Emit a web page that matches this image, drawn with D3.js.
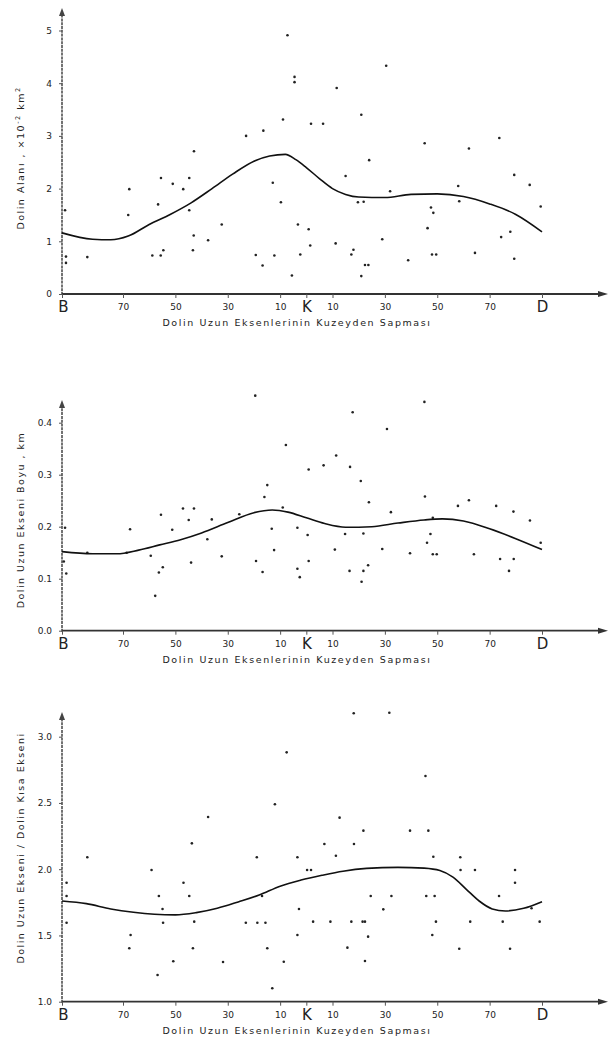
<!DOCTYPE html>
<html><head><meta charset="utf-8">
<script src="https://cdn.jsdelivr.net/npm/d3@7"></script>
<style>
html,body{margin:0;padding:0;background:#fff;}
svg{display:block;}
text{font-family:"DejaVu Sans",sans-serif;fill:#222;}
</style></head><body>
<svg id="chart" width="610" height="1045"></svg>
<script>
// ---- tick definitions (degrees of deviation from north; West negative, East positive)
const xTickValues = [-90,-70,-50,-30,-10,0,10,30,50,70,90];
const xTickLabels = ["B","70","50","30","10","K","10","30","50","70","D"];
const xTitle = "Dolin Uzun Eksenlerinin Kuzeyden Sapması";

// ---- panel 1: doline area
const areaTicks = [0,1,2,3,4,5];
const areaTickLabels = ["0","1","2","3","4","5"];
const areaPoints = [[-89,1.59],[-88.7,0.71],[-88.7,0.59],[-81.7,0.70],[-67.6,1.99],[-68,1.50],[-58.8,0.73],[-56.6,1.70],[-55.5,2.20],[-55.6,0.73],[-54.6,0.83],[-51,2.09],[-47,1.99],[-44.7,2.20],[-44.7,1.59],[-42.9,2.71],[-43,1.11],[-43.3,0.83],[-37.5,1.02],[-32.3,1.32],[-23,3.00],[-19.3,0.74],[-16.7,0.54],[-16.4,3.10],[-12.8,2.11],[-12.2,0.73],[-9.7,1.74],[-8.9,3.31],[-7.2,4.91],[-5.5,0.35],[-4.5,4.12],[-4.5,4.02],[-3.2,1.32],[-2.3,0.75],[0.9,1.23],[1.5,0.92],[1.8,3.23],[6.4,3.23],[11.6,3.91],[11.2,0.96],[15,2.24],[18,0.84],[17.2,0.75],[21,3.40],[19.7,1.74],[21.9,1.75],[21,0.34],[22.4,0.55],[23.7,0.55],[24,2.54],[30.5,4.33],[29,1.04],[32,1.95],[38.9,0.64],[45.2,2.86],[46.3,1.25],[47.6,1.64],[48.5,1.54],[48,0.75],[49.6,0.75],[58,2.05],[58.4,1.76],[62.1,2.76],[64.4,0.78],[73.7,2.96],[74.4,1.08],[77.9,1.18],[79.4,2.26],[79.4,0.67],[85.3,2.07],[89.5,1.66]];
const areaCurve = [[-90,1.16],[-80,1.04],[-74,1.03],[-68,1.10],[-60,1.32],[-52,1.51],[-44,1.73],[-36,2.00],[-28,2.28],[-20,2.52],[-14,2.62],[-8,2.65],[-4,2.55],[0,2.40],[5,2.19],[10,2.00],[15,1.89],[20,1.84],[30,1.83],[40,1.89],[50,1.90],[60,1.85],[70,1.71],[80,1.51],[90,1.18]];

// ---- panel 2: long axis length
const lengthTicks = [0,0.1,0.2,0.3,0.4];
const lengthTickLabels = ["0.0","0.1","0.2","0.3","0.4"];
const lengthPoints = [[-89,0.198],[-89.4,0.133],[-88.6,0.110],[-81.7,0.150],[-68.6,0.150],[-67.3,0.195],[-59.4,0.144],[-57.7,0.067],[-56.3,0.112],[-55.5,0.223],[-54.8,0.122],[-51.2,0.194],[-47.1,0.235],[-44.9,0.213],[-44,0.131],[-42.9,0.235],[-37.8,0.176],[-36.1,0.214],[-32.3,0.143],[-25.6,0.224],[-19.5,0.452],[-19.2,0.134],[-16.7,0.113],[-16,0.257],[-14.9,0.280],[-13.2,0.196],[-12.3,0.155],[-9,0.237],[-7.8,0.357],[-3.4,0.198],[-3.4,0.119],[-2.5,0.103],[0.9,0.310],[0.5,0.184],[0.9,0.134],[6.6,0.318],[11.4,0.337],[10.9,0.156],[14.8,0.186],[16.7,0.315],[17.7,0.420],[16.5,0.115],[20.8,0.288],[21.8,0.187],[21.8,0.115],[21.1,0.094],[23.6,0.126],[23.9,0.247],[30.8,0.388],[32.3,0.228],[29,0.157],[39.6,0.149],[45.1,0.440],[45.3,0.258],[47.4,0.186],[46.1,0.169],[48.3,0.217],[48.3,0.147],[49.8,0.147],[57.9,0.240],[62.1,0.251],[64,0.147],[72.5,0.240],[74,0.138],[77.4,0.115],[79.1,0.229],[79.2,0.138],[85.4,0.212],[89.5,0.169]];
const lengthCurve = [[-90,0.152],[-80,0.148],[-72,0.148],[-64,0.155],[-56,0.165],[-48,0.175],[-40,0.188],[-30,0.208],[-20,0.227],[-13,0.232],[-7,0.228],[0,0.217],[7,0.206],[15,0.199],[25,0.200],[35,0.207],[45,0.213],[52,0.215],[60,0.211],[70,0.196],[80,0.177],[90,0.156]];

// ---- panel 3: long / short axis ratio
const ratioTicks = [1,1.5,2,2.5,3];
const ratioTickLabels = ["1.0","1.5","2.0","2.5","3.0"];
const ratioPoints = [[-88.5,1.898],[-88.5,1.798],[-88.5,1.596],[-81.7,2.090],[-67.1,1.503],[-67.6,1.403],[-59.1,1.994],[-56.8,1.202],[-56.3,1.798],[-54.9,1.700],[-54.7,1.596],[-50.8,1.305],[-46.9,1.898],[-44.7,1.798],[-43.7,2.195],[-42.8,1.604],[-43.3,1.403],[-37.5,2.394],[-31.8,1.300],[-23.1,1.596],[-18.9,2.090],[-18.7,1.596],[-16.9,1.798],[-15.6,1.596],[-14.9,1.403],[-13,1.101],[-12,2.490],[-8.6,1.302],[-7.5,2.882],[-3.4,2.090],[-2.8,1.700],[-3.4,1.503],[0.3,1.994],[1.8,1.994],[2.6,1.604],[6.9,2.190],[9.2,1.604],[11.3,2.102],[12.7,2.389],[15.7,1.408],[17.2,1.604],[18.1,3.177],[18.2,2.190],[21.8,2.291],[21.5,1.604],[22.4,1.604],[23.6,1.491],[22.4,1.307],[24.6,1.798],[31.7,3.181],[29.4,1.697],[32.5,1.798],[39.6,2.291],[45.5,2.703],[46.6,2.291],[48.5,2.094],[45.8,1.798],[49,1.798],[49.5,1.604],[48.1,1.503],[58.8,2.090],[58.9,1.994],[58.4,1.400],[62.6,1.604],[64.4,1.994],[73.6,1.798],[75,1.604],[77.8,1.400],[79.7,1.994],[79.7,1.898],[86,1.705],[89.1,1.604]];
const ratioCurve = [[-90,1.76],[-82,1.74],[-74,1.70],[-66,1.675],[-58,1.66],[-50,1.655],[-42,1.672],[-34,1.705],[-26,1.753],[-18,1.805],[-10,1.872],[-2,1.918],[6,1.954],[14,1.985],[23,2.006],[35,2.014],[45,2.008],[51,1.99],[56,1.94],[61,1.85],[66,1.76],[71,1.70],[76,1.685],[83,1.705],[90,1.755]];

// ---- layout
const svg = d3.select("#chart");
const axisX0 = 62, axisX1 = 608;
const x = d3.scaleLinear().domain([-90,-70,90]).range([62,123,542]);

const panels = [
  {ticks: areaTicks, labels: areaTickLabels, pts: areaPoints, curve: areaCurve,
   domain:[0,5], range:[294,30.5], top:8, titleY:158,
   title: [["Dolin Alanı , ×10",0],["-2",1],[" km",0],["2",1]]},
  {ticks: lengthTicks, labels: lengthTickLabels, pts: lengthPoints, curve: lengthCurve,
   domain:[0,0.4], range:[630.7,422.7], top:400, titleY:520,
   title: [["Dolin Uzun Ekseni Boyu , km",0]]},
  {ticks: ratioTicks, labels: ratioTickLabels, pts: ratioPoints, curve: ratioCurve,
   domain:[1,3], range:[1001.7,736.7], top:712, titleY:848,
   title: [["Dolin Uzun Ekseni / Dolin Kısa Ekseni",0]]}
];

panels.forEach(p => {
  const y = d3.scaleLinear().domain(p.domain).range(p.range);
  const base = p.range[0];
  const g = svg.append("g");

  // y axis line
  g.append("line").attr("x1",axisX0).attr("x2",axisX0).attr("y1",base+1).attr("y2",p.top+6)
    .attr("stroke","#444").attr("stroke-width",1.5).attr("stroke-dasharray","3,0.8");
  g.append("path").attr("d",`M${axisX0},${p.top} L${axisX0-3},${p.top+8} L${axisX0+3},${p.top+8} Z`).attr("fill","#444");
  // x axis line
  g.append("line").attr("x1",axisX0).attr("x2",axisX1-7).attr("y1",base).attr("y2",base)
    .attr("stroke","#333").attr("stroke-width",1.8);
  g.append("path").attr("d",`M${axisX1},${base} L${axisX1-10},${base-3} L${axisX1-10},${base+3} Z`).attr("fill","#333");

  // y ticks
  const yAxis = d3.axisLeft(y).tickValues(p.ticks).tickSize(3).tickPadding(7)
    .tickFormat((d,i)=>p.labels[i]);
  const ya = g.append("g").attr("transform",`translate(${axisX0},0)`).call(yAxis);
  ya.select(".domain").remove();
  ya.selectAll("line").attr("stroke","#555");
  ya.selectAll("text").style("font-size","9px").style("font-family","'DejaVu Sans',sans-serif").attr("fill","#333");

  // x ticks
  const xAxis = d3.axisBottom(x).tickValues(xTickValues).tickSize(4).tickPadding(6)
    .tickFormat((d,i)=>xTickLabels[i]);
  const xa = g.append("g").attr("transform",`translate(0,${base})`).call(xAxis);
  xa.select(".domain").remove();
  xa.selectAll("line").attr("stroke","#555");
  xa.selectAll("text").each(function(d,i){
    const big = ["B","K","D"].includes(xTickLabels[i]);
    d3.select(this).style("font-family","'DejaVu Sans',sans-serif")
      .style("font-size", big ? "15px" : "9px").attr("fill","#333")
      .attr("dy", big ? "0.55em" : "0.71em")
      .attr("dx", xTickLabels[i]==="B" ? "1" : "0");
  });

  // x title
  g.append("text").attr("x",297).attr("y",base+32).attr("text-anchor","middle")
    .style("font-size","9.5px").style("letter-spacing","1.6px").attr("fill","#333").text(xTitle);

  // y title
  const t = g.append("text").attr("transform",`translate(24,${p.titleY}) rotate(-90)`)
    .attr("text-anchor","middle").style("font-size","9.5px").style("letter-spacing","1.5px").attr("fill","#333");
  p.title.forEach(([s,sup]) => {
    const ts = t.append("tspan").text(s);
    if (sup) ts.attr("baseline-shift","super").style("font-size","6.5px");
  });

  // points
  g.selectAll("circle.pt").data(p.pts).join("circle").attr("class","pt")
    .attr("cx",d=>x(d[0])).attr("cy",d=>y(d[1])).attr("r",1.3).attr("fill","#222");

  // curve
  const line = d3.line().x(d=>x(d[0])).y(d=>y(d[1])).curve(d3.curveMonotoneX);
  g.append("path").datum(p.curve).attr("d",line).attr("fill","none")
    .attr("stroke","#111").attr("stroke-width",1.6);
});
</script>
</body></html>
